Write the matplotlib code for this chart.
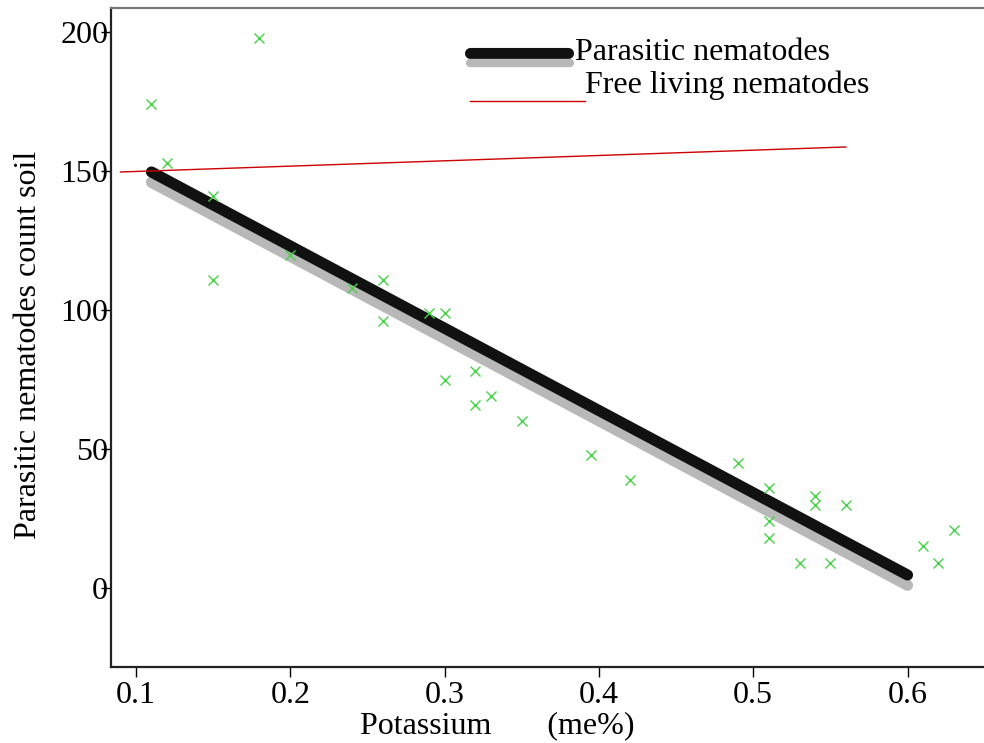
import matplotlib
matplotlib.use("Agg")
import matplotlib.pyplot as plt
import numpy as np

plt.rcParams['font.family'] = ['Liberation Serif', 'DejaVu Serif']

# soil samples: potassium (me%) vs parasitic nematode count
potassium = [0.11, 0.12, 0.18, 0.15, 0.15, 0.20, 0.24, 0.26, 0.26, 0.29,
             0.30, 0.30, 0.32, 0.32, 0.33, 0.35, 0.395, 0.42, 0.49, 0.51,
             0.51, 0.51, 0.53, 0.54, 0.54, 0.55, 0.56, 0.61, 0.62, 0.63]
parasitic = [174, 153, 198, 141, 111, 120, 108, 111, 96, 99,
             99, 75, 78, 66, 69, 60, 48, 39, 45, 36,
             24, 18, 9, 33, 30, 9, 30, 15, 9, 21]

# fitted lines
fit_x = [0.11, 0.60]
parasitic_fit = [149.7, 4.7]
parasitic_fit_shadow = [146.0, 1.0]
free_x = [0.09, 0.56]
free_fit = [149.7, 158.7]

xticks = [0.1, 0.2, 0.3, 0.4, 0.5, 0.6]
yticks = [0, 50, 100, 150, 200]

FS = 23

fig = plt.figure(figsize=(9.84, 7.43), dpi=100)
ax = fig.add_axes([111 / 984, 76 / 743, 874 / 984, 659 / 743])

ax.plot(fit_x, parasitic_fit_shadow, color='#b8b8b8', lw=8, solid_capstyle='round', zorder=2)
ax.plot(fit_x, parasitic_fit, color='#111111', lw=8, solid_capstyle='round', zorder=3)
ax.plot(free_x, free_fit, color='#cc0000', lw=1.0, zorder=4)
ax.plot(potassium, parasitic, ls='none', marker='x', ms=7.5, mew=1.0, color='#46d246', zorder=5)

ax.set_xlim(0.0838, 0.6502)
ax.set_ylim(-28.4, 208.7)
ax.set_xticks(xticks)
ax.set_xticklabels([f"{t:.1f}" for t in xticks])
ax.set_yticks(yticks)
ax.tick_params(axis='both', labelsize=FS, direction='out', length=7, width=1.0)
ax.tick_params(axis='y', pad=-5)
ax.tick_params(axis='x', pad=3)

for s in ['left', 'bottom']:
    ax.spines[s].set_linewidth(1.6)
    ax.spines[s].set_color('#222222')
ax.spines['top'].set_linewidth(1.6)
ax.spines['top'].set_color('#777777')
ax.spines['right'].set_visible(False)

ax.set_xlabel("Potassium       (me%)", fontsize=FS)
ax.xaxis.set_label_coords(0.4424, -0.067)
ax.set_ylabel("Parasitic nematodes count soil", fontsize=FS)
ax.yaxis.set_label_coords(-0.078, 0.489)

# legend keys drawn by hand
ax.plot([0.411, 0.523], [0.932, 0.932], transform=ax.transAxes, color='#111111',
        lw=8, solid_capstyle='round', clip_on=False)
ax.plot([0.411, 0.5255], [0.9165, 0.9165], transform=ax.transAxes, color='#b8b8b8',
        lw=6, solid_capstyle='round', clip_on=False)
ax.plot([0.411, 0.542], [0.859, 0.859], transform=ax.transAxes, color='#cc0000',
        lw=1.0, clip_on=False)
ax.text(0.531, 0.921, "Parasitic nematodes", transform=ax.transAxes, fontsize=FS,
        ha='left', va='baseline')
ax.text(0.542, 0.8706, "Free living nematodes", transform=ax.transAxes, fontsize=FS,
        ha='left', va='baseline')

fig.savefig("out.png", dpi=100)
